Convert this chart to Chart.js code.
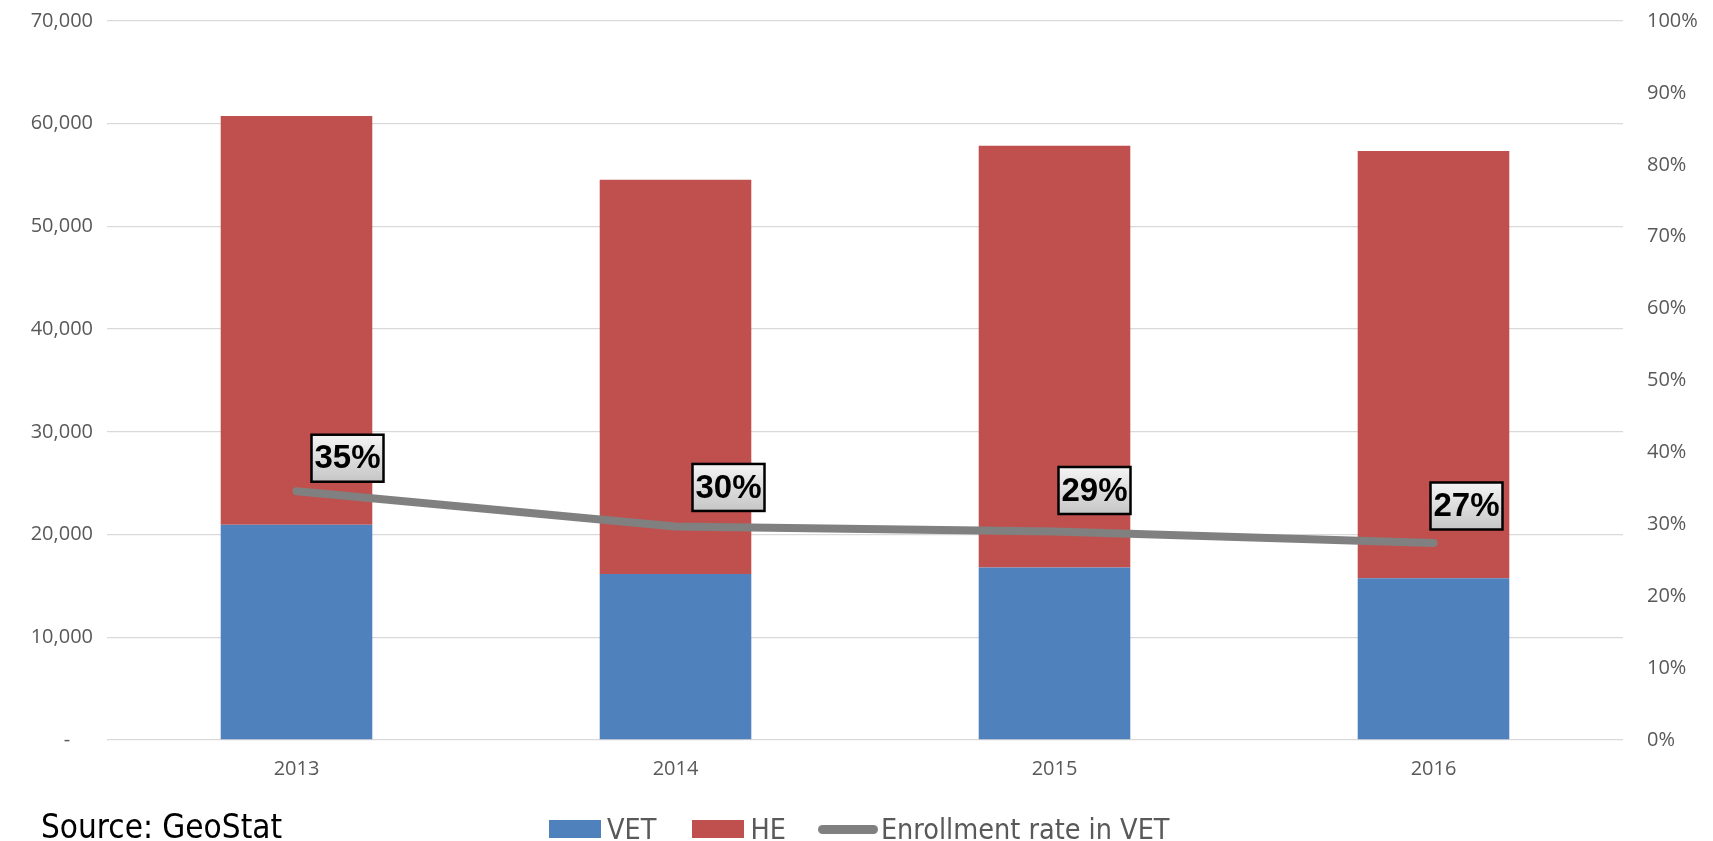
<!DOCTYPE html>
<html>
<head>
<meta charset="utf-8">
<script src="https://cdn.jsdelivr.net/npm/chart.js@4/dist/chart.umd.min.js"></script>
<style>
    html, body { margin: 0; padding: 0; background: #fff; }
    #wrap { position: relative; width: 1713px; height: 841px; }
    #source {
        position: absolute; left: 41px; top: 807px;
        font: 33px "Liberation Sans Narrow", "DejaVu Sans Condensed", sans-serif;
        color: #000; line-height: 40px;
    }
    #legend {
        position: absolute; left: 549px; top: 809px; height: 40px;
        display: flex; align-items: center;
        font: 28.5px "Liberation Sans Narrow", "DejaVu Sans Condensed", sans-serif;
        color: #595959;
    }
    #legend .box { width: 52px; height: 18px; margin-right: 6px; }
    #legend .stroke { width: 60px; height: 9px; border-radius: 5px; background: #808080; margin-right: 3px; }
    #legend .item { display: flex; align-items: center; }
</style>
</head>
<body>
<div id="wrap">
    <canvas id="enrollment-chart" width="1713" height="841"></canvas>
    <div id="source">Source: GeoStat</div>
    <div id="legend"></div>
</div>
<script>
// Enrollment data by year
const years = ['2013', '2014', '2015', '2016'];
const vetStudents = [20950, 16150, 16800, 15750];
const heStudents = [39800, 38400, 41050, 41600];
const vetRate = [34.6, 29.7, 29.0, 27.4];

const countTicks = [0, 10000, 20000, 30000, 40000, 50000, 60000, 70000];
const rateTicks = [0, 10, 20, 30, 40, 50, 60, 70, 80, 90, 100];

const BLUE = '#4f81bd';
const RED = '#c0504d';
const GREY = '#808080';

// nudges for the rate callouts, in px from each point
const calloutOffsets = [[51, -33], [53, -39], [40, -41], [33, -37]];

function formatCount(v) {
    // accounting style: zero shows as a dash, indented
    if (v === 0) return '-\u2007\u2007';
    return v.toLocaleString('en-US');
}

// fixed axis width; drop the label overhang so the plot top stays put
function fixAxis(width) {
    return (s) => {
        s.width = width;
        s.paddingTop = 0;
        s.paddingBottom = 0;
    };
}

// Boxed percentage labels over the line
const rateCallouts = {
    id: 'rateCallouts',
    afterDatasetsDraw(chart) {
        const meta = chart.getDatasetMeta(2);
        const ctx = chart.ctx;
        ctx.save();
        ctx.font = 'bold 33px "Liberation Sans Narrow", "Liberation Sans", sans-serif';
        ctx.textAlign = 'center';
        ctx.textBaseline = 'middle';
        meta.data.forEach((pt, i) => {
            const cx = pt.x + calloutOffsets[i][0];
            const cy = pt.y + calloutOffsets[i][1];
            const w = 72, h = 47;
            const grad = ctx.createLinearGradient(0, cy - h / 2, 0, cy + h / 2);
            grad.addColorStop(0, '#f4f4f4');
            grad.addColorStop(1, '#c6c6c6');
            ctx.fillStyle = grad;
            ctx.fillRect(cx - w / 2, cy - h / 2, w, h);
            ctx.lineWidth = 2.5;
            ctx.strokeStyle = '#000';
            ctx.strokeRect(cx - w / 2, cy - h / 2, w, h);
            ctx.fillStyle = '#000';
            ctx.fillText(Math.round(vetRate[i]) + '%', cx, cy + 1);
        });
        ctx.restore();
    }
};

const ctx = document.getElementById('enrollment-chart').getContext('2d');

new Chart(ctx, {
    data: {
        labels: years,
        datasets: [
            {
                type: 'bar',
                label: 'VET',
                data: vetStudents,
                backgroundColor: BLUE,
                yAxisID: 'y',
                order: 2,
                barPercentage: 0.4,
                categoryPercentage: 1.0,
            },
            {
                type: 'bar',
                label: 'HE',
                data: heStudents,
                backgroundColor: RED,
                yAxisID: 'y',
                order: 2,
                barPercentage: 0.4,
                categoryPercentage: 1.0,
            },
            {
                type: 'line',
                label: 'Enrollment rate in VET',
                data: vetRate,
                borderColor: GREY,
                borderWidth: 8,
                borderCapStyle: 'round',
                borderJoinStyle: 'round',
                pointRadius: 0,
                tension: 0,
                yAxisID: 'y1',
                order: 1,
            }
        ]
    },
    options: {
        responsive: false,
        animation: false,
        layout: { padding: { top: 21, bottom: 0, left: 0, right: 0 } },
        plugins: {
            legend: { display: false },
            tooltip: { enabled: false }
        },
        scales: {
            x: {
                stacked: true,
                grid: { display: false },
                border: { display: false },
                ticks: {
                    color: '#595959',
                    font: { family: '"Open Sans"', size: 20 },
                    padding: 9
                },
                afterFit: (s) => { s.height = 101; }
            },
            y: {
                stacked: true,
                min: 0,
                max: 70000,
                afterBuildTicks: (s) => { s.ticks = countTicks.map(v => ({ value: v })); },
                grid: { color: '#d9d9d9', lineWidth: 1.3, drawTicks: false },
                border: { display: false },
                ticks: {
                    color: '#595959',
                    font: { family: '"Open Sans"', size: 20 },
                    padding: 14,
                    callback: (v) => formatCount(v)
                },
                afterFit: fixAxis(107)
            },
            y1: {
                position: 'right',
                min: 0,
                max: 100,
                afterBuildTicks: (s) => { s.ticks = rateTicks.map(v => ({ value: v })); },
                grid: { display: false, drawTicks: false },
                border: { display: false },
                ticks: {
                    color: '#595959',
                    font: { family: '"Open Sans"', size: 20 },
                    padding: 24,
                    callback: (v) => v + '%'
                },
                afterFit: fixAxis(90)
            }
        }
    },
    plugins: [rateCallouts]
});

// Legend row under the axis
const legendItems = [
    { text: 'VET', cls: 'box', color: BLUE, gap: 36 },
    { text: 'HE', cls: 'box', color: RED, gap: 32 },
    { text: 'Enrollment rate in VET', cls: 'stroke', color: GREY, gap: 0 }
];
const legendEl = document.getElementById('legend');
legendItems.forEach(item => {
    const el = document.createElement('div');
    el.className = 'item';
    el.style.marginRight = item.gap + 'px';
    el.innerHTML = `<span class="${item.cls}" style="background:${item.color}"></span><span>${item.text}</span>`;
    legendEl.appendChild(el);
});
</script>
</body>
</html>
